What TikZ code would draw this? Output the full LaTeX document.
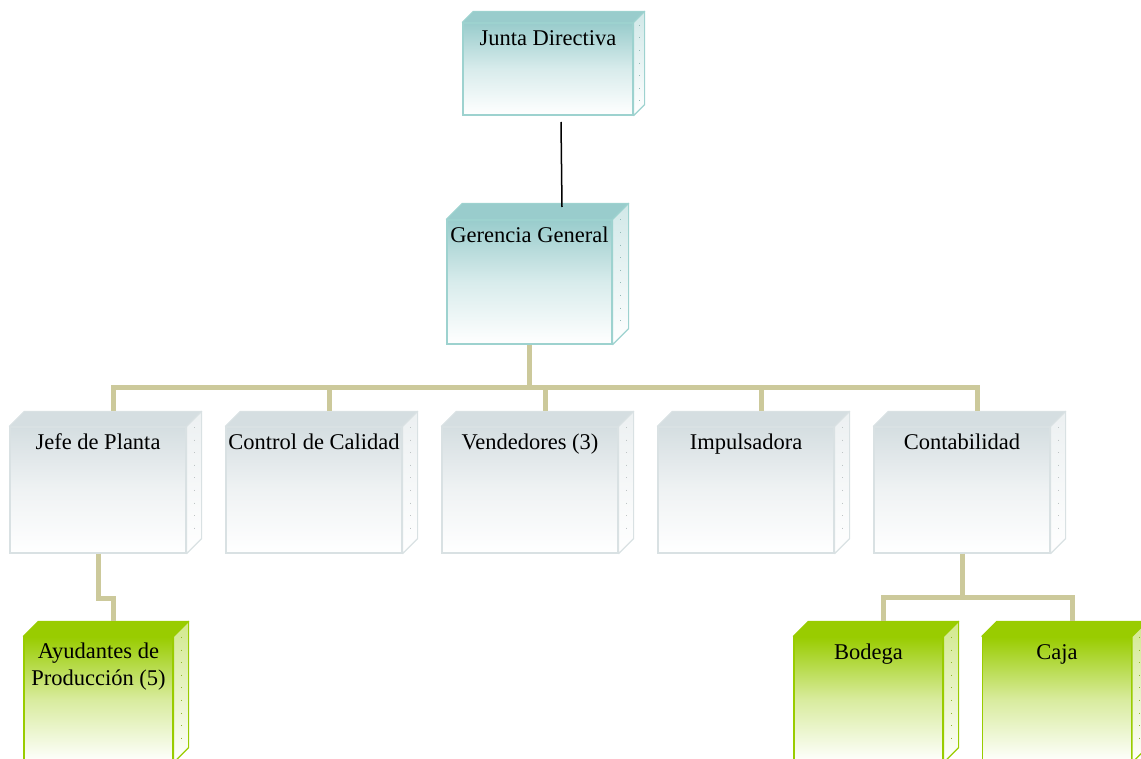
\documentclass[tikz,border=0pt]{standalone}
\usepackage{fontspec}
\setmainfont{Liberation Serif}
\definecolor{agua}{HTML}{99CCCC}
\definecolor{aguaborde}{HTML}{9DD2CF}
\definecolor{gris}{HTML}{D5DEE1}
\definecolor{grisborde}{HTML}{D9E1E3}
\definecolor{verde}{HTML}{99CC00}
\definecolor{verdeborde}{HTML}{99CC00}
\definecolor{ocre}{HTML}{CCC99B}
% caras de arriba y del costado de cada caja
\newcommand{\cubo}[3]{%
  \filldraw[fill=#2, draw=#2borde, line width=1.2pt, line join=round]
    (#1.north west) -- ++(#3pt,#3pt) -- ([shift={(#3pt,#3pt)}]#1.north east)
    -- (#1.north east) -- cycle;
  \draw[lateral=#2, line join=round] (#1.north east) -- ([shift={(#3pt,#3pt)}]#1.north east)
    -- ([shift={(#3pt,#3pt)}]#1.south east) -- (#1.south east) -- cycle;
  \draw[#2borde!70!gray, line width=0.6pt, dash pattern=on 0.6pt off 12pt]
    ([shift={(0.5*#3pt,0.5*#3pt-8pt)}]#1.north east)
    -- ([shift={(0.5*#3pt,0.5*#3pt+6pt)}]#1.south east);
  \coordinate (#1-top) at ([shift={(#3pt,#3pt)}]#1.north);
}

\begin{document}
\begin{tikzpicture}[x=1pt, y=-1pt,
  frente/.style={draw=#1borde, line width=1.2pt, top color=#1, bottom color=white, middle color=#1!38},
  lateral/.style={draw=#1borde, line width=1.2pt, top color=#1!45, bottom color=white},
  rotulo/.style={anchor=base, yshift=-23pt, font=\fontsize{22.5}{27}\selectfont, align=center, inner sep=0pt},
  nivel/.style={minimum width=176pt, minimum height=126pt},
  hoja/.style={minimum width=149pt, minimum height=125pt},
  conector/.style={ocre, line width=5pt}]
  \path[use as bounding box] (0,0) rectangle (1141,759);
  \clip (0,0) rectangle (1141,759);

  % cabeza
  \node[frente=agua, minimum width=170pt, minimum height=92pt,
    label={[rotulo]north:Junta Directiva}] (junta) at (548,69) {};
  \cubo{junta}{agua}{11}
  \node[frente=agua, minimum width=165pt, minimum height=124pt,
    label={[rotulo]north:Gerencia General}] (gerencia) at (529.5,282) {};
  \cubo{gerencia}{agua}{16}

  % segundo nivel
  \node[frente=gris, nivel, label={[rotulo]north:Jefe de Planta}] (jefe) at (98,490) {};
  \node[frente=gris, nivel, label={[rotulo]north:Control de Calidad}] (calidad) at (314,490) {};
  \node[frente=gris, nivel, label={[rotulo]north:Vendedores (3)}] (vendedores) at (530,490) {};
  \node[frente=gris, nivel, label={[rotulo]north:Impulsadora}] (impulsadora) at (746,490) {};
  \node[frente=gris, nivel, label={[rotulo]north:Contabilidad}] (contabilidad) at (962,490) {};
  \foreach \n in {jefe,calidad,vendedores,impulsadora,contabilidad}
    {\cubo{\n}{gris}{15}}

  % tercer nivel
  \node[frente=verde, hoja, label={[rotulo, yshift=-26pt]north:{Ayudantes de\\Producción (5)}}] (ayudantes) at (98.5,699.5) {};
  \node[frente=verde, hoja, label={[rotulo]north:Bodega}] (bodega) at (868.5,699.5) {};
  \node[frente=verde, hoja, label={[rotulo]north:Caja}] (caja) at (1057,699.5) {};
  \foreach \n in {ayudantes,bodega,caja}
    {\cubo{\n}{verde}{15}}

  % conectores
  \coordinate (jd-sal) at (561,122);
  \coordinate (gg-ent) at (562,207);
  \draw[line width=1.5pt] (jd-sal) -- (gg-ent);

  \coordinate (bus) at (529.5,387);
  \draw[conector] (gerencia.south) -- (bus);
  \foreach \n in {jefe,calidad,vendedores,impulsadora,contabilidad}
    \draw[conector] (bus) -| (\n-top);

  \draw[conector] (jefe.south) -- ++(0pt,-45pt) -| (ayudantes-top);
  \coordinate (cont-bus) at (962,597);
  \draw[conector] (contabilidad.south) -- (cont-bus);
  \draw[conector] (cont-bus) -| (bodega-top);
  \draw[conector] (cont-bus) -| (caja-top);
\end{tikzpicture}
\end{document}
